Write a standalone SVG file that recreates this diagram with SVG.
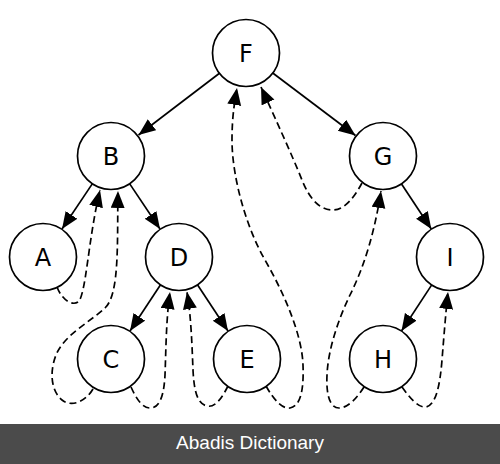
<svg xmlns="http://www.w3.org/2000/svg" width="500" height="464" viewBox="0 0 500 464">
<style>
.node circle{fill:#fff;stroke:#000;stroke-width:1.7}
.node text{font-family:"DejaVu Sans",sans-serif;font-size:24px;text-anchor:middle;fill:#000}
.edge{fill:none;stroke:#000;stroke-width:1.7;marker-end:url(#ah)}
.thread{fill:none;stroke:#000;stroke-width:1.7;stroke-dasharray:7,4;marker-end:url(#ah)}
</style>
<defs>
<marker id="ah" markerUnits="userSpaceOnUse" markerWidth="18" markerHeight="15" refX="17" refY="7" orient="auto">
<path d="M0,0 L17,7 L0,14 z" fill="#000"/>
</marker>
</defs>
<rect width="500" height="464" fill="#fff"/>
<g id="connectors">
<path class="edge" d="M219.8,73 L138.5,135"/>
<path class="edge" d="M272.4,72.8 L355.5,135.5"/>
<path class="edge" d="M92.6,183.4 L62,229"/>
<path class="edge" d="M129.4,183.4 L160,229"/>
<path class="edge" d="M160.7,284.5 L130,331"/>
<path class="edge" d="M197.3,284.5 L228,331"/>
<path class="edge" d="M401.2,183.5 L431.3,229"/>
<path class="edge" d="M431.9,284.6 L401.5,331"/>
<path class="thread" d="M57,287 C62,300 72,306 78,302 C86,296 88,240 100,190"/>
<path class="thread" d="M93,389 C86,401 72,408 62,400 C50,390 50,370 56,355 C64,335 90,322 105,308 C120,294 117,240 118,191"/>
<path class="thread" d="M131,387 C136,398 142,408 150,408 C160,408 164,395 165,375 C166,350 166,320 170,292"/>
<path class="thread" d="M228,386 C222,398 215,408 207,406 C197,404 194,390 193,370 C192,345 191,315 187,292"/>
<path class="thread" d="M266,386 C274,400 282,409 290,408 C300,406 304,392 303,365 C302,335 285,295 265,260 C245,225 232,175 232,140 C232,115 235,100 237,88"/>
<path class="thread" d="M362,183 C355,196 345,210 333,210 C320,210 310,200 302,180 C292,155 275,118 261,87"/>
<path class="thread" d="M364,387 C357,398 348,408 339,408 C330,408 326,395 327,375 C328,350 338,320 350,295 C365,265 375,230 381,191"/>
<path class="thread" d="M402,387 C410,398 418,408 426,407 C436,405 440,385 442,360 C444,335 446,310 448,292"/>
</g>
<g id="F" class="node"><circle cx="246" cy="53" r="33.5"/><text x="246" y="62">F</text></g>
<g id="B" class="node"><circle cx="111" cy="156" r="33.5"/><text x="111" y="165">B</text></g>
<g id="G" class="node"><circle cx="383" cy="156" r="33.5"/><text x="383" y="165">G</text></g>
<g id="A" class="node"><circle cx="43" cy="257" r="33.5"/><text x="43" y="266">A</text></g>
<g id="D" class="node"><circle cx="179" cy="257" r="33.5"/><text x="179" y="266">D</text></g>
<g id="I" class="node"><circle cx="450" cy="257" r="33.5"/><text x="450" y="266">I</text></g>
<g id="C" class="node"><circle cx="111" cy="359" r="33.5"/><text x="111" y="368">C</text></g>
<g id="E" class="node"><circle cx="247" cy="359" r="33.5"/><text x="247" y="368">E</text></g>
<g id="H" class="node"><circle cx="383" cy="359" r="33.5"/><text x="383" y="368">H</text></g>
<rect x="0" y="424" width="500" height="40" fill="#4b4b4b"/>
<text x="250" y="449" font-family="Liberation Sans, Arial, sans-serif" font-size="19" fill="#fff" text-anchor="middle">Abadis Dictionary</text>
</svg>
